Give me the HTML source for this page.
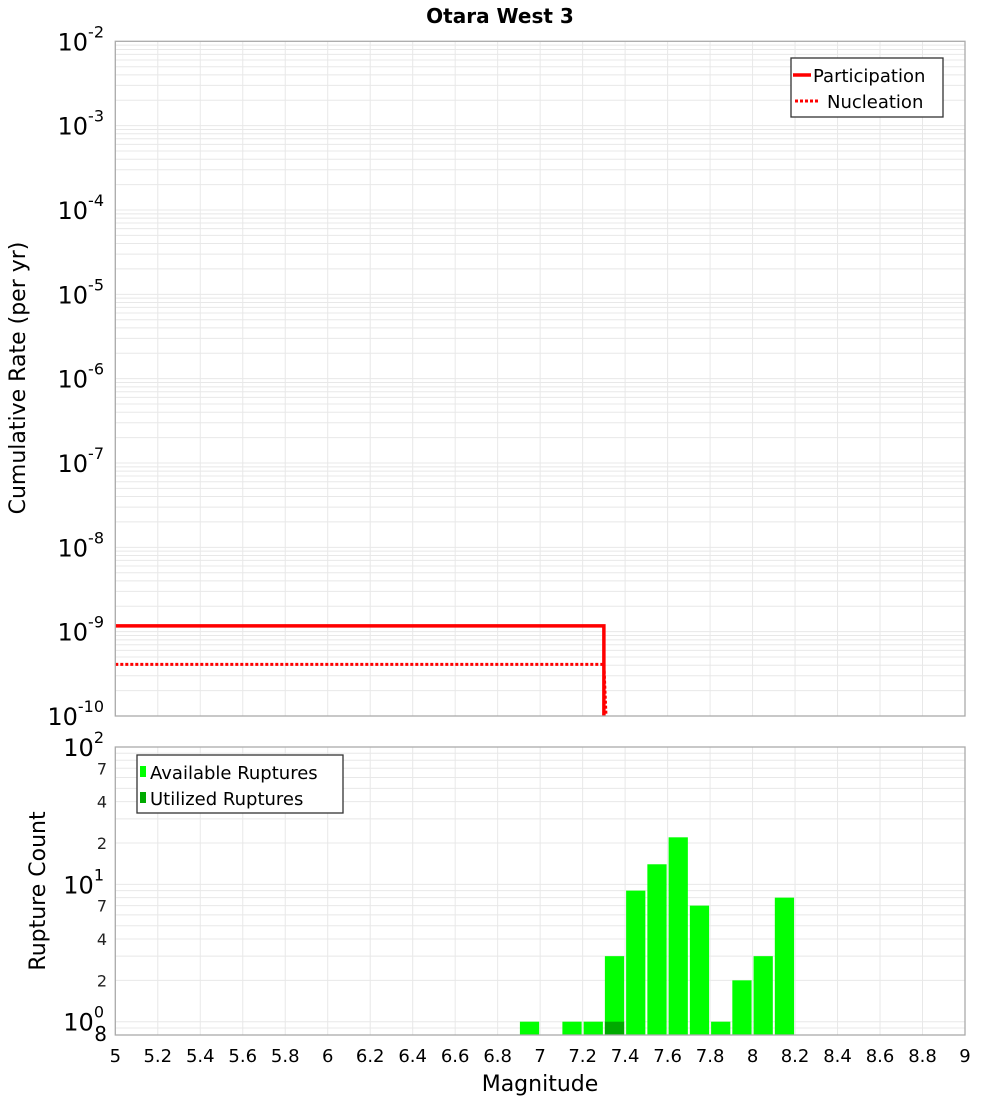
<!DOCTYPE html>
<html><head><meta charset="utf-8"><style>
html,body{margin:0;padding:0;background:#fff;}
svg{display:block;font-family:"DejaVu Sans","Liberation Sans",sans-serif;}
</style></head><body>
<svg id="chart" width="1000" height="1100" viewBox="0 0 1000 1100" xmlns="http://www.w3.org/2000/svg">
<rect width="1000" height="1100" fill="#fff"/>
<text x="500" y="23" text-anchor="middle" font-size="20" font-weight="bold">Otara West 3</text>
<g id="topPlot"></g>
<g id="botPlot"></g>
<text transform="translate(25,378) rotate(-90)" text-anchor="middle" font-size="22">Cumulative Rate (per yr)</text>
<text transform="translate(45,891) rotate(-90)" text-anchor="middle" font-size="22">Rupture Count</text>
<text x="540" y="1091" text-anchor="middle" font-size="22">Magnitude</text>
</svg>
<script>
// data
const partMags = [5.0, 7.3, 7.3];
const partRates = [1.17e-9, 1.17e-9, 1e-10];
const nuclMags = [5.0, 7.3, 7.31];
const nuclRates = [4.1e-10, 4.1e-10, 1e-10];
const binCenters = [6.95, 7.15, 7.25, 7.35, 7.45, 7.55, 7.65, 7.75, 7.85, 7.95, 8.05, 8.15];
const availCounts = [1, 1, 1, 3, 9, 14, 22, 7, 1, 2, 3, 8];
const utilCenters = [7.35];
const utilCounts = [1];
const xTicks = [5,5.2,5.4,5.6,5.8,6,6.2,6.4,6.6,6.8,7,7.2,7.4,7.6,7.8,8,8.2,8.4,8.6,8.8,9];
const topExps = [-2,-3,-4,-5,-6,-7,-8,-9,-10];
const botExps = [2,1,0];
const botMinor = [7,4,2];

const NS='http://www.w3.org/2000/svg';
const X0=115.3,X1=965,T0=41.3,T1=716,B0=747,B1=1035;
const xs=m=>X0+(m-5)/4*(X1-X0);
const yT=v=>T0+(-2-Math.log10(v))/8*(T1-T0);
const yB=v=>B1-(Math.log10(v)-Math.log10(0.8))/(2-Math.log10(0.8))*(B1-B0);
function mk(tag,attrs,parent){const e=document.createElementNS(NS,tag);for(const k in attrs)e.setAttribute(k,attrs[k]);parent.appendChild(e);return e;}
const gTop=document.getElementById('topPlot'),gBot=document.getElementById('botPlot');

// grids
function grid(g,y0,y1,yf,lo,hi){
  for(let e=lo;e<hi;e++)for(let k=1;k<=9;k++){const v=k*Math.pow(10,e);const yy=yf(v);if(yy<y0-0.5||yy>y1+0.5)continue;
    const l=mk('line',{x1:X0,x2:X1,y1:yy,y2:yy,stroke:'#e8e8e8','stroke-width':1},g);
    
    }
  xTicks.forEach(t=>{const l=mk('line',{x1:xs(t),x2:xs(t),y1:y0,y2:y1,stroke:'#e8e8e8','stroke-width':1},g);
    
    });
}
grid(gTop,T0,T1,yT,-10,-2);
grid(gBot,B0,B1,yB,-1,2);

// top lines
function drawLine(ms,rs,dash,name){
  const p=mk('polyline',{points:ms.map((m,i)=>xs(m)+','+yT(rs[i])).join(' '),fill:'none',stroke:'#ff0000','stroke-width':dash?3:3.5},gTop);
  if(dash)p.setAttribute('stroke-dasharray','3,2');
  
  
}
drawLine(partMags,partRates,false,'participation-line');
drawLine(nuclMags,nuclRates,true,'nucleation-line');

// bars
const bw=(X1-X0)/40;
binCenters.forEach((c,i)=>{const yy=yB(availCounts[i]);
  const r=mk('rect',{x:xs(c)-bw/2+1,y:yy,width:bw-2,height:B1-yy,fill:'#00ff00'},gBot);
  
  });
utilCenters.forEach((c,i)=>{const yy=yB(utilCounts[i]);
  const r=mk('rect',{x:xs(c)-bw/2+1,y:yy,width:bw-2,height:B1-yy,fill:'#00aa00'},gBot);
  
  });

// frames
[[gTop,T0,T1,'top-plot-frame'],[gBot,B0,B1,'bottom-plot-frame']].forEach(([g,a,b,n])=>{
  const r=mk('rect',{x:X0,y:a,width:X1-X0,height:b-a,fill:'none',stroke:'#aaa','stroke-width':1.3},g);
  
  });

// top y labels
topExps.forEach(e=>{const yy=yT(Math.pow(10,e));
  const t=mk('text',{x:104,y:yy+9,'text-anchor':'end','font-size':24},gTop);
  
  
  t.textContent='10';
  const s=mk('tspan',{dy:-13,'font-size':16},t);s.textContent=String(e);});
// bottom y labels
botExps.forEach(e=>{const yy=yB(Math.pow(10,e));
  const t=mk('text',{x:104,y:yy+9,'text-anchor':'end','font-size':24},gBot);
  
  
  t.textContent='10';
  const s=mk('tspan',{dy:-13,'font-size':16},t);s.textContent=String(e);});
[1,0].forEach(e=>botMinor.forEach(k=>{const v=k*Math.pow(10,e);const yy=yB(v);
  const t=mk('text',{x:107,y:yy+6,'text-anchor':'end','font-size':16,fill:'#222'},gBot);
  
  
  t.textContent=String(k);}));
{const t=mk('text',{x:107,y:yB(0.8)+6,'text-anchor':'end','font-size':20},gBot);
  
  
  t.textContent='8';}
// x labels
xTicks.forEach(v=>{const t=mk('text',{x:xs(v),y:1062,'text-anchor':'middle','font-size':18},gBot);
  
  
  t.textContent=String(v);});

// legends
function legend(g,lx,ly,w,h,items,name){
  const r=mk('rect',{x:lx,y:ly,width:w,height:h,fill:'#fff',stroke:'#333','stroke-width':1.3},g);
  
  
  items.forEach((it,i)=>{const cy=ly+17+i*26;
    it.draw(cy);
    const t=mk('text',{x:it.tx,y:cy+7,'font-size':18},g);
    
    
    t.textContent=it.label;});
}
legend(gTop,791,58,152,59,[
  {label:'Participation',tx:813,draw:cy=>{const l=mk('line',{x1:793,x2:811,y1:cy,y2:cy,stroke:'#f00','stroke-width':3.5},gTop);}},
  {label:'Nucleation',tx:827,draw:cy=>{const l=mk('line',{x1:795,x2:820,y1:cy,y2:cy,stroke:'#f00','stroke-width':3,'stroke-dasharray':'3,2'},gTop);}}
],'top-legend');
legend(gBot,137,755,206,58,[
  {label:'Available Ruptures',tx:150,draw:cy=>{const r=mk('rect',{x:140,y:cy-6,width:6,height:11,fill:'#00ff00'},gBot);}},
  {label:'Utilized Ruptures',tx:150,draw:cy=>{const r=mk('rect',{x:140,y:cy-6,width:6,height:11,fill:'#00aa00'},gBot);}}
],'bottom-legend');
</script>
</body></html>
